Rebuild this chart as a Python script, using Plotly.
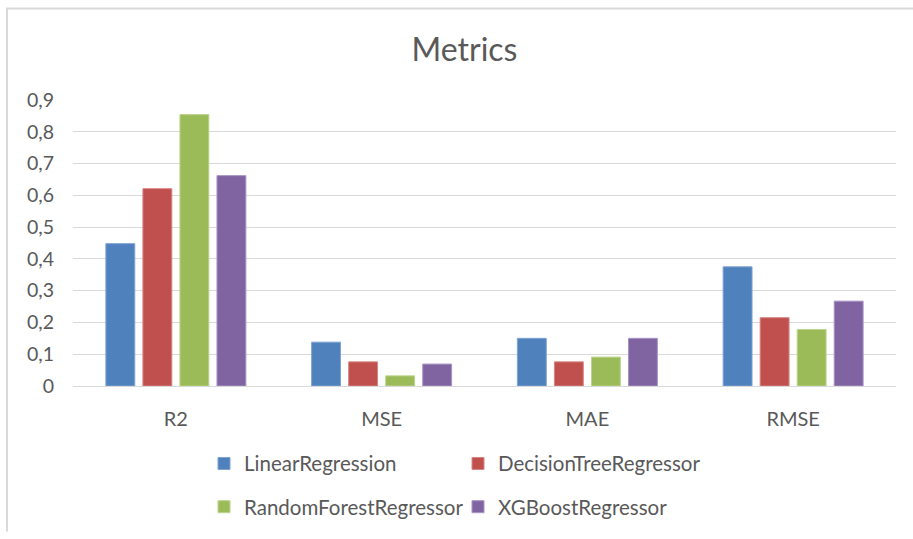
import plotly.graph_objects as go

categories = ["R2", "MSE", "MAE", "RMSE"]
linear_regression = [0.448, 0.138, 0.150, 0.375]
decision_tree = [0.621, 0.076, 0.076, 0.215]
random_forest = [0.854, 0.032, 0.091, 0.178]
xgboost = [0.662, 0.069, 0.150, 0.267]

series = [
    ("LinearRegression", linear_regression, "#4F81BD", "#7FA3D3", "legend"),
    ("DecisionTreeRegressor", decision_tree, "#C0504D", "#D88583", "legend2"),
    ("RandomForestRegressor", random_forest, "#9BBB59", "#BCD48E", "legend3"),
    ("XGBoostRegressor", xgboost, "#8064A2", "#A993C3", "legend4"),
]

FONT = "Lato, 'Open Sans', sans-serif"
TXT = "#595959"

fig = go.Figure()
for name, vals, col, edge, lg in series:
    fig.add_trace(go.Bar(
        x=categories, y=vals, name=name, showlegend=True,
        marker=dict(color=col, line=dict(color=edge, width=1)),
        legend=lg,
    ))

W, H = 913, 539
ml, mr, mt, mb = 73, 17, 100, 148
pw, ph = W - ml - mr, H - mt - mb

def px_x(p):
    return (p - ml) / pw

def px_y(p):
    return (H - mb - p) / ph

legend_common = dict(orientation="h", xanchor="left", yanchor="middle",
                     font=dict(family=FONT, size=20.5, color=TXT),
                     bgcolor="rgba(0,0,0,0)", borderwidth=0, visible=True)

fig.update_layout(
    width=W, height=H,
    margin=dict(l=ml, r=mr, t=mt, b=mb),
    paper_bgcolor="white", plot_bgcolor="white",
    separators=", ",
    showlegend=True,
    barmode="group", bargap=0.28, bargroupgap=0.22,
    title=dict(text="Metrics", x=px_x(464.5), xanchor="center", xref="paper",
               y=1 - 50 / H, yanchor="middle",
               font=dict(family=FONT, size=32, color=TXT)),
    legend=dict(x=px_x(204), y=px_y(470), **legend_common),
    legend2=dict(x=px_x(458), y=px_y(470), **legend_common),
    legend3=dict(x=px_x(204), y=px_y(514), **legend_common),
    legend4=dict(x=px_x(458), y=px_y(514), **legend_common),
    xaxis=dict(showgrid=False, showline=False, ticks="", ticklabelstandoff=19,
               tickfont=dict(family=FONT, size=20, color=TXT)),
    yaxis=dict(range=[0, 0.9], dtick=0.1, showgrid=True, gridcolor="#D9D9D9",
               gridwidth=1, zeroline=True, zerolinecolor="#D9D9D9", zerolinewidth=1,
               showline=False, ticks="", ticklabelstandoff=18,
               tickfont=dict(family=FONT, size=19.5, color=TXT)),
    shapes=[
        dict(type="line", xref="paper", yref="paper", x0=px_x(7), x1=px_x(7),
             y0=px_y(7), y1=px_y(539), line=dict(color="#D9D9D9", width=2)),
        dict(type="line", xref="paper", yref="paper", x0=px_x(6), x1=px_x(913),
             y0=px_y(7), y1=px_y(7), line=dict(color="#D9D9D9", width=2)),
    ],
)

fig.write_html("out.html")
